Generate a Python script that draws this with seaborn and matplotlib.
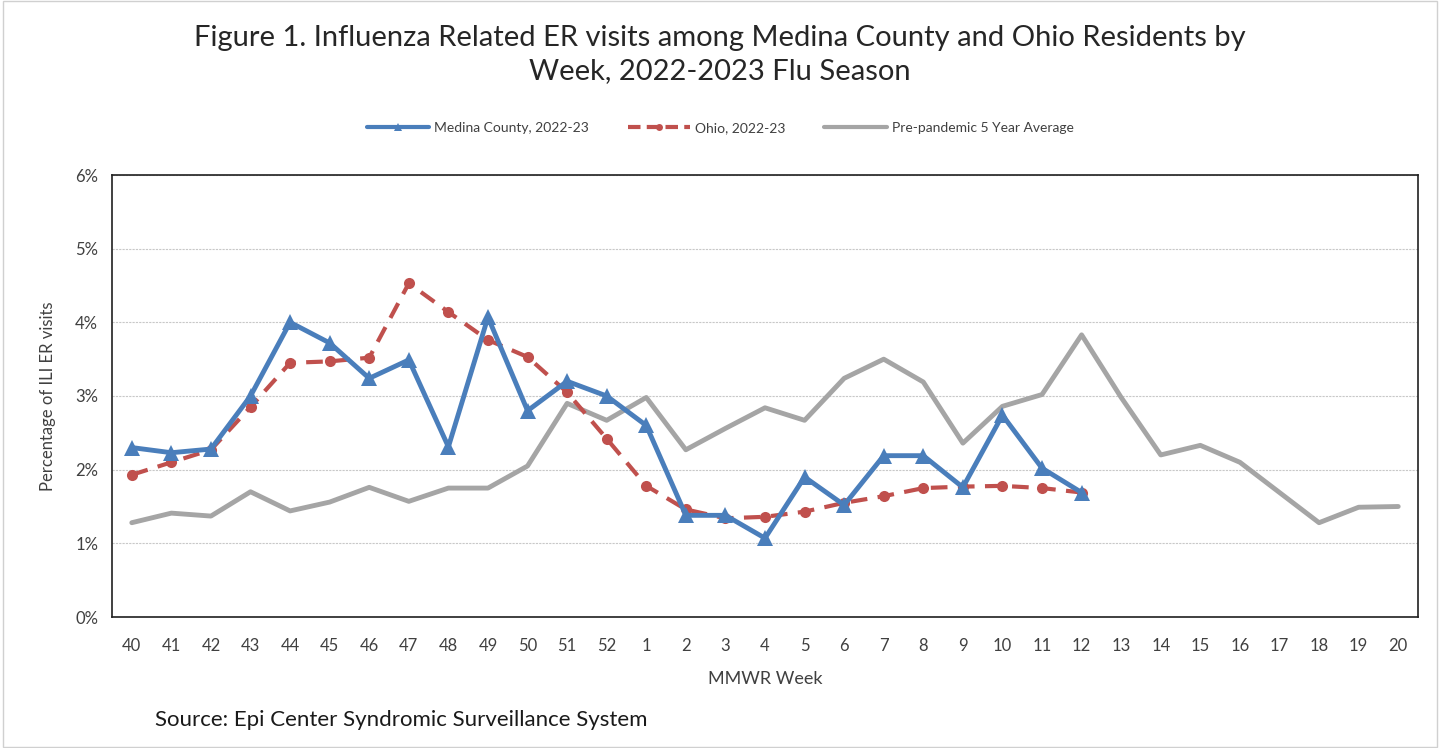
import numpy as np
import pandas as pd
import matplotlib
matplotlib.use('Agg')
import matplotlib.pyplot as plt
import seaborn as sns
from matplotlib.lines import Line2D

weeks = [str(w) for w in list(range(40, 53)) + list(range(1, 21))]

medina = [2.30, 2.23, 2.28, 3.00, 4.00, 3.72, 3.24, 3.49, 2.31, 4.07, 2.80, 3.20, 3.00,
          2.60, 1.38, 1.38, 1.07, 1.90, 1.52, 2.19, 2.19, 1.76, 2.74, 2.02, 1.69]
ohio = [1.93, 2.10, 2.27, 2.85, 3.45, 3.47, 3.52, 4.53, 4.14, 3.76, 3.53, 3.05, 2.42,
        1.78, 1.46, 1.34, 1.36, 1.43, 1.55, 1.64, 1.75, 1.77, 1.78, 1.75, 1.69]
avg5 = [1.28, 1.41, 1.37, 1.70, 1.44, 1.56, 1.76, 1.57, 1.75, 1.75, 2.05, 2.90, 2.67,
        2.98, 2.27, 2.56, 2.84, 2.67, 3.24, 3.50, 3.19, 2.36, 2.86, 3.02, 3.83,
        2.98, 2.20, 2.33, 2.10, 1.69, 1.28, 1.49, 1.50]

sns.set_style('white')
plt.rcParams['font.family'] = ['Lato', 'DejaVu Sans']

blue = '#4a7ebb'
red = '#c0504d'
grey = '#a5a5a5'

pos = np.arange(len(weeks))
df_avg = pd.DataFrame({'pos': pos, 'val': avg5})
df_med = pd.DataFrame({'pos': pos[:len(medina)], 'val': medina})
df_ohio = pd.DataFrame({'pos': pos[:len(ohio)], 'val': ohio})

fig = plt.figure(figsize=(14.4, 7.48), dpi=100)
ax = fig.add_axes([112 / 1440, 1 - 617 / 748, (1418 - 112) / 1440, (617 - 175) / 748])

sns.lineplot(data=df_avg, x='pos', y='val', ax=ax, color=grey, linewidth=3.5, zorder=2)
sns.lineplot(data=df_ohio, x='pos', y='val', ax=ax, color=red, linewidth=3,
             linestyle=(0, (4, 2.5)), marker='o', markersize=8, markeredgewidth=0, zorder=3)
sns.lineplot(data=df_med, x='pos', y='val', ax=ax, color=blue, linewidth=3.5,
             marker='^', markersize=11, markeredgewidth=0, zorder=4)

ax.set_xlim(-0.5, len(weeks) - 0.5)
ax.set_ylim(0, 6)
ax.set_xticks(pos)
ax.set_xticklabels(weeks)
ax.set_yticks(range(0, 7))
ax.set_yticklabels([f'{v}%' for v in range(0, 7)])
ax.tick_params(axis='both', labelsize=12, colors='#404040', length=0)
ax.tick_params(axis='x', pad=15)
ax.tick_params(axis='y', pad=10)
ax.grid(axis='y', color='#c8c8c8', linestyle=(0, (2, 1)), linewidth=0.8)
for s in ax.spines.values():
    s.set_color('#202020')
    s.set_linewidth(1.2)

ax.set_xlabel('MMWR Week', fontsize=13, color='#404040', labelpad=12)
ax.set_ylabel('Percentage of ILI ER visits', fontsize=12, color='#404040', labelpad=14)

fig.suptitle('Figure 1. Influenza Related ER visits among Medina County and Ohio Residents by\n'
             'Week, 2022-2023 Flu Season', y=0.966, fontsize=21, color='#262626', linespacing=1.3)

handles = [
    Line2D([], [], color=blue, linewidth=3, marker='^', markersize=6, markeredgewidth=0),
    Line2D([], [], color=red, linewidth=3, linestyle=(0, (3, 1.5)), marker='o', markersize=5, markeredgewidth=0),
    Line2D([], [], color=grey, linewidth=3),
]
fig.legend(handles, ['Medina County, 2022-23', 'Ohio, 2022-23', 'Pre-pandemic 5 Year Average'],
           loc='center', bbox_to_anchor=(0.5, 1 - 128 / 748), ncol=3, frameon=False,
           fontsize=10, handlelength=4.5, columnspacing=2.8, handletextpad=0.35,
           labelcolor='#404040')

fig.text(155 / 1440, 1 - 720 / 748, 'Source: Epi Center Syndromic Surveillance System',
         fontsize=16, color='#1a1a1a', va='center')

fig.patches.append(plt.Rectangle((0.002, 0.002), 0.996, 0.996, transform=fig.transFigure,
                                 fill=False, edgecolor='#d0d0d0', linewidth=1))

fig.savefig('out.png', dpi=100)
